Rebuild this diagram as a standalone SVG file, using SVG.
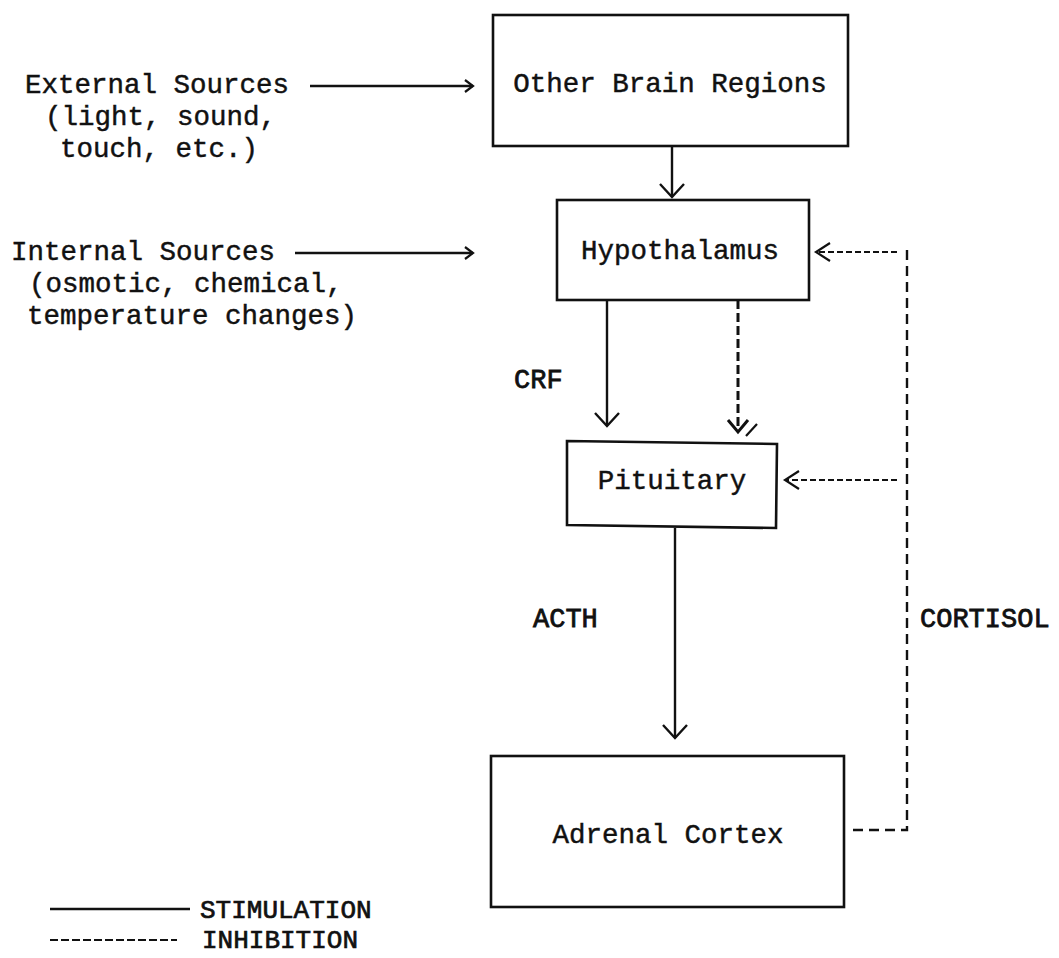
<svg xmlns="http://www.w3.org/2000/svg" width="1059" height="958" viewBox="0 0 1059 958">
<style>
  .t { font-family: "Liberation Mono", "Courier New", monospace; font-size: 27.5px; fill: #111; stroke: #111; stroke-width: 0.45; }
  .lbl { font-family: "Liberation Mono", "Courier New", monospace; font-size: 27px; fill: #111; stroke: #111; stroke-width: 0.8; }
  .leg { font-family: "Liberation Mono", "Courier New", monospace; font-size: 26px; fill: #111; stroke: #111; stroke-width: 0.7; }
  .box { fill: #fff; stroke: #111; stroke-width: 2.6; }
  .solid { fill: none; stroke: #111; stroke-width: 2.4; }
  .dash { fill: none; stroke: #111; stroke-width: 2; stroke-dasharray: 6 3; }
  .dashv { fill: none; stroke: #111; stroke-width: 2.4; stroke-dasharray: 10 6; }
  .dashb { fill: none; stroke: #111; stroke-width: 3; stroke-dasharray: 9 4; }
</style>
<defs>
  <marker id="v" markerUnits="userSpaceOnUse" markerWidth="40" markerHeight="40" viewBox="-20 -20 40 40" refX="0" refY="0" orient="auto" overflow="visible">
    <path d="M-13,-12 L0,0 L-13,12" fill="none" stroke="#111" stroke-width="2.4"/>
  </marker>
  <marker id="s" markerUnits="userSpaceOnUse" markerWidth="30" markerHeight="30" viewBox="-15 -15 30 30" refX="0" refY="0" orient="auto" overflow="visible">
    <path d="M-8,-6 L0,0 L-8,6" fill="none" stroke="#111" stroke-width="2.2"/>
  </marker>
  <marker id="d" markerUnits="userSpaceOnUse" markerWidth="30" markerHeight="30" viewBox="-15 -15 30 30" refX="0" refY="0" orient="auto" overflow="visible">
    <path d="M-14,-9 L0,0 L-14,9" fill="none" stroke="#111" stroke-width="2.2"/>
  </marker>
</defs>
<rect width="1059" height="958" fill="#fff"/>

<g id="external-sources">
  <text class="t" x="25" y="93">External Sources</text>
  <text class="t" x="45" y="125">(light, sound,</text>
  <text class="t" x="60" y="157">touch, etc.)</text>
</g>
<g id="internal-sources">
  <text class="t" x="11" y="260">Internal Sources</text>
  <text class="t" x="29" y="292">(osmotic, chemical,</text>
  <text class="t" x="27" y="324">temperature changes)</text>
</g>

<g id="other-brain-regions">
  <rect class="box" x="493" y="15" width="355" height="131"/>
  <text class="t" x="670" y="92" text-anchor="middle">Other Brain Regions</text>
</g>
<g id="hypothalamus">
  <rect class="box" x="557" y="200" width="252" height="100"/>
  <text class="t" x="680" y="259" text-anchor="middle">Hypothalamus</text>
</g>
<g id="pituitary">
  <path class="box" d="M567,441 L777,444 L776,528 L567,525 Z"/>
  <text class="t" x="672" y="489" text-anchor="middle">Pituitary</text>
</g>
<g id="adrenal-cortex">
  <rect class="box" x="491" y="756" width="353" height="151"/>
  <text class="t" x="668" y="843" text-anchor="middle">Adrenal Cortex</text>
</g>

<g id="connectors">
  <line class="solid" x1="310" y1="86" x2="473" y2="86" marker-end="url(#s)"/>
  <line class="solid" x1="295" y1="253" x2="473" y2="253" marker-end="url(#s)"/>
  <line class="solid" x1="672" y1="146" x2="672" y2="197" marker-end="url(#v)"/>
  <line class="solid" x1="607" y1="300" x2="607" y2="426" marker-end="url(#v)"/>
  <line class="dashb" x1="738" y1="300" x2="738" y2="432"/>
  <path d="M728,420 L738,432 L748,420" fill="none" stroke="#111" stroke-width="3"/>
  <path d="M746,436 L757,424" fill="none" stroke="#111" stroke-width="2.2"/>
  <line class="solid" x1="675" y1="528" x2="675" y2="738" marker-end="url(#v)"/>
  <line class="dash" x1="897" y1="252" x2="816" y2="252" marker-end="url(#d)"/>
  <line class="dash" x1="897" y1="480" x2="785" y2="480" marker-end="url(#d)"/>
  <polyline class="dashv" points="853,830 907,830 907,248"/>
  <text class="lbl" x="514" y="388">CRF</text>
  <text class="lbl" x="533" y="627">ACTH</text>
  <text class="lbl" x="920" y="627">CORTISOL</text>
</g>

<g id="legend">
  <line class="solid" x1="50" y1="909" x2="190" y2="909"/>
  <text class="leg" x="200" y="918">STIMULATION</text>
  <line x1="50" y1="940" x2="177" y2="940" stroke="#111" stroke-width="2" stroke-dasharray="8 3"/>
  <text class="leg" x="202" y="948">INHIBITION</text>
</g>
</svg>
